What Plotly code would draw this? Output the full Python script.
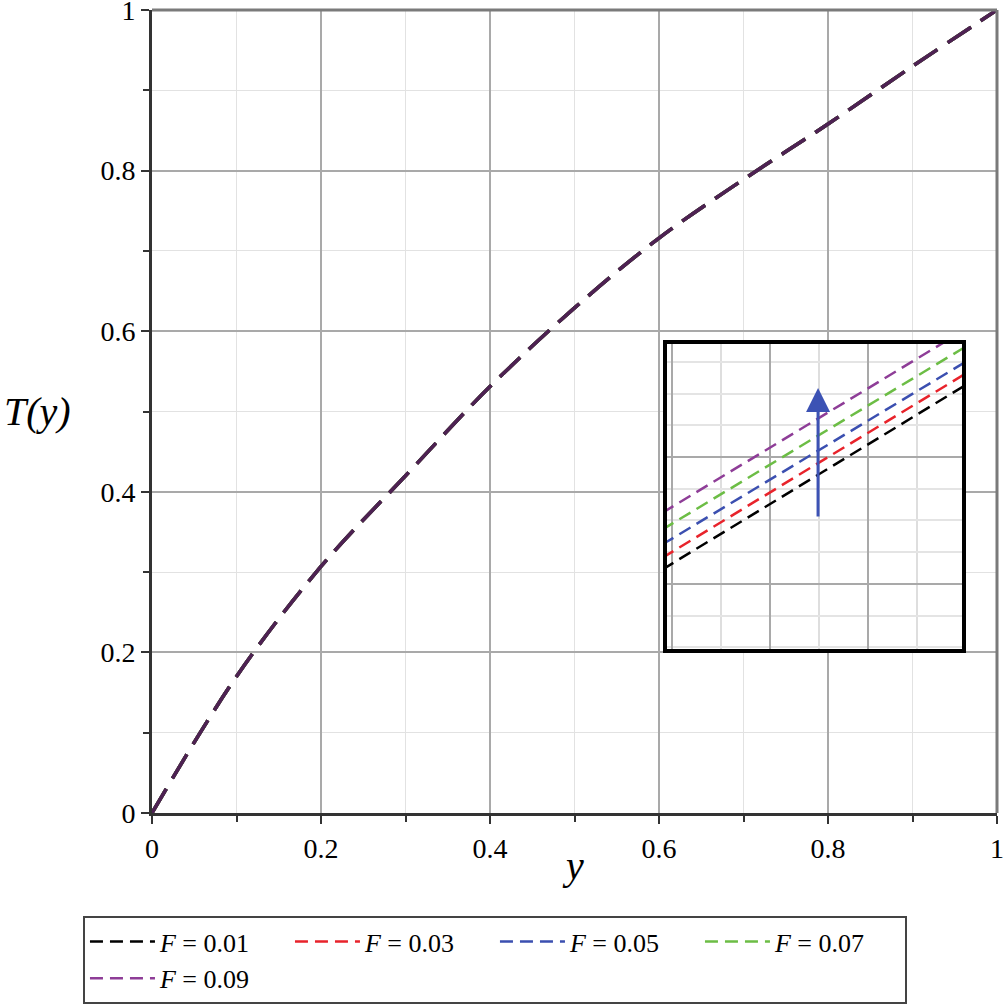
import plotly.graph_objects as go

# ---------------- data ----------------
F_labels = ["0.01", "0.03", "0.05", "0.07", "0.09"]
F_colors = ["#000000", "#e8232b", "#3b4fb0", "#6cbd45", "#8e3d97"]

# main curve (all F values coincide at this scale)
y_main = [0.0, 0.1, 0.2, 0.3, 0.4, 0.5, 0.6, 0.7, 0.8, 0.9, 1.0]
T_main = [0.0, 0.170, 0.307, 0.420, 0.531, 0.629, 0.716, 0.789, 0.858, 0.930, 1.0]

# zoomed inset (values near y = 0.5)
y_inset = [0.4998, 0.5060]
T_inset_F001 = [0.62445, 0.63028]
T_inset_F003 = [0.62482, 0.63064]
T_inset_F005 = [0.62524, 0.63101]
T_inset_F007 = [0.62571, 0.63149]
T_inset_F009 = [0.62624, 0.63204]
T_inset = [T_inset_F001, T_inset_F003, T_inset_F005, T_inset_F007, T_inset_F009]

# arrow in inset (direction of increasing F)
arrow_y = 0.50298
arrow_T_from = 0.62608
arrow_T_to = 0.63018

x_ticks = [0, 0.2, 0.4, 0.6, 0.8, 1]
x_ticklabels = ["0", "0.2", "0.4", "0.6", "0.8", "1"]

SERIF = "Liberation Serif"

fig = go.Figure()

# main curves: draw order so that overlap gives the dark purple tone
order = [1, 2, 3, 0, 4]
for i in order:
    fig.add_trace(go.Scatter(
        x=y_main, y=T_main, mode="lines",
        line=dict(color=F_colors[i], width=3.5, dash="28px,12px", shape="spline"),
        opacity=0.55 if i == 4 else 1.0,
        showlegend=False, xaxis="x", yaxis="y", hoverinfo="skip"))

# inset curves (carry the legend)
for i in range(5):
    fig.add_trace(go.Scatter(
        x=y_inset, y=T_inset[i], mode="lines",
        line=dict(color=F_colors[i], width=2.5, dash="13px,7px"),
        name="<i>F</i> = " + F_labels[i],
        xaxis="x2", yaxis="y2"))

fig.add_annotation(
    x=arrow_y, y=arrow_T_to, ax=arrow_y, ay=arrow_T_from,
    xref="x2", yref="y2", axref="x2", ayref="y2",
    text="", showarrow=True, arrowhead=2, arrowsize=1.6, arrowwidth=3,
    arrowcolor="#3c52b4")

# axis titles
fig.add_annotation(x=-0.136, y=0.50, xref="paper", yref="paper",
                   xanchor="center", yanchor="middle",
                   text="<i>T(y)</i>", showarrow=False,
                   font=dict(family=SERIF, size=40, color="black"))
fig.add_annotation(x=0.498, y=-0.066, xref="paper", yref="paper",
                   xanchor="center", yanchor="middle",
                   text="<i>y</i>", showarrow=False,
                   font=dict(family=SERIF, size=40, color="black"))

# top / right frame lines (lighter grey)
fig.add_shape(type="line", xref="paper", yref="paper", x0=0, x1=1, y0=1, y1=1,
              line=dict(color="#7a7a7a", width=3))
fig.add_shape(type="line", xref="paper", yref="paper", x0=1, x1=1, y0=0, y1=1,
              line=dict(color="#7a7a7a", width=3))

axis_common = dict(
    domain=[0, 1], range=[0, 1],
    tickvals=x_ticks, ticktext=x_ticklabels,
    showgrid=True, gridcolor="#a9a9a9", gridwidth=1.5,
    minor=dict(dtick=0.1, showgrid=True, gridcolor="#e2e2e2", gridwidth=1,
               ticks="outside", ticklen=6, tickwidth=2, tickcolor="#333"),
    ticks="outside", ticklen=8, tickwidth=2, tickcolor="#333",
    showline=True, linecolor="#333333", linewidth=3, mirror=False,
    zeroline=False, automargin=False, ticklabeloverflow="allow",
    tickfont=dict(family=SERIF, size=28, color="black"))

fig.update_layout(
    width=1006, height=1005,
    margin=dict(l=152, r=9, t=10, b=192, autoexpand=False),
    paper_bgcolor="white", plot_bgcolor="white",
    font=dict(family=SERIF, size=28, color="black"),
    xaxis=axis_common,
    yaxis=axis_common,
    xaxis2=dict(
        domain=[0.6095, 0.9586], range=[0.499898, 0.505918], anchor="y2",
        tick0=0.5, dtick=0.002, showticklabels=False, ticks="",
        showgrid=True, gridcolor="#a9a9a9", gridwidth=1.5,
        minor=dict(dtick=0.001, showgrid=True, gridcolor="#dedede", gridwidth=1.5),
        showline=True, linecolor="black", linewidth=4, mirror=True, zeroline=False,
        automargin=False),
    yaxis2=dict(
        domain=[0.2042, 0.584], range=[0.621943, 0.631565], anchor="x2",
        tick0=0.628, dtick=0.004, showticklabels=False, ticks="",
        showgrid=True, gridcolor="#a9a9a9", gridwidth=1.5,
        minor=dict(dtick=0.001, showgrid=True, gridcolor="#e4e4e4", gridwidth=1.5),
        showline=True, linecolor="black", linewidth=4, mirror=True, zeroline=False,
        automargin=False),
    legend=dict(
        orientation="h", x=-0.0817, y=-0.1283, xanchor="left", yanchor="top",
        entrywidth=125, entrywidthmode="pixels",
        bordercolor="#444444", borderwidth=2, bgcolor="white",
        font=dict(family=SERIF, size=26, color="black"),
        tracegroupgap=0, itemwidth=65),
    showlegend=True,
)

fig.write_html("out.html",
               config={"displayModeBar": False},
               post_script="document.body.style.margin='0';"
                           "document.documentElement.style.overflow='hidden';")
